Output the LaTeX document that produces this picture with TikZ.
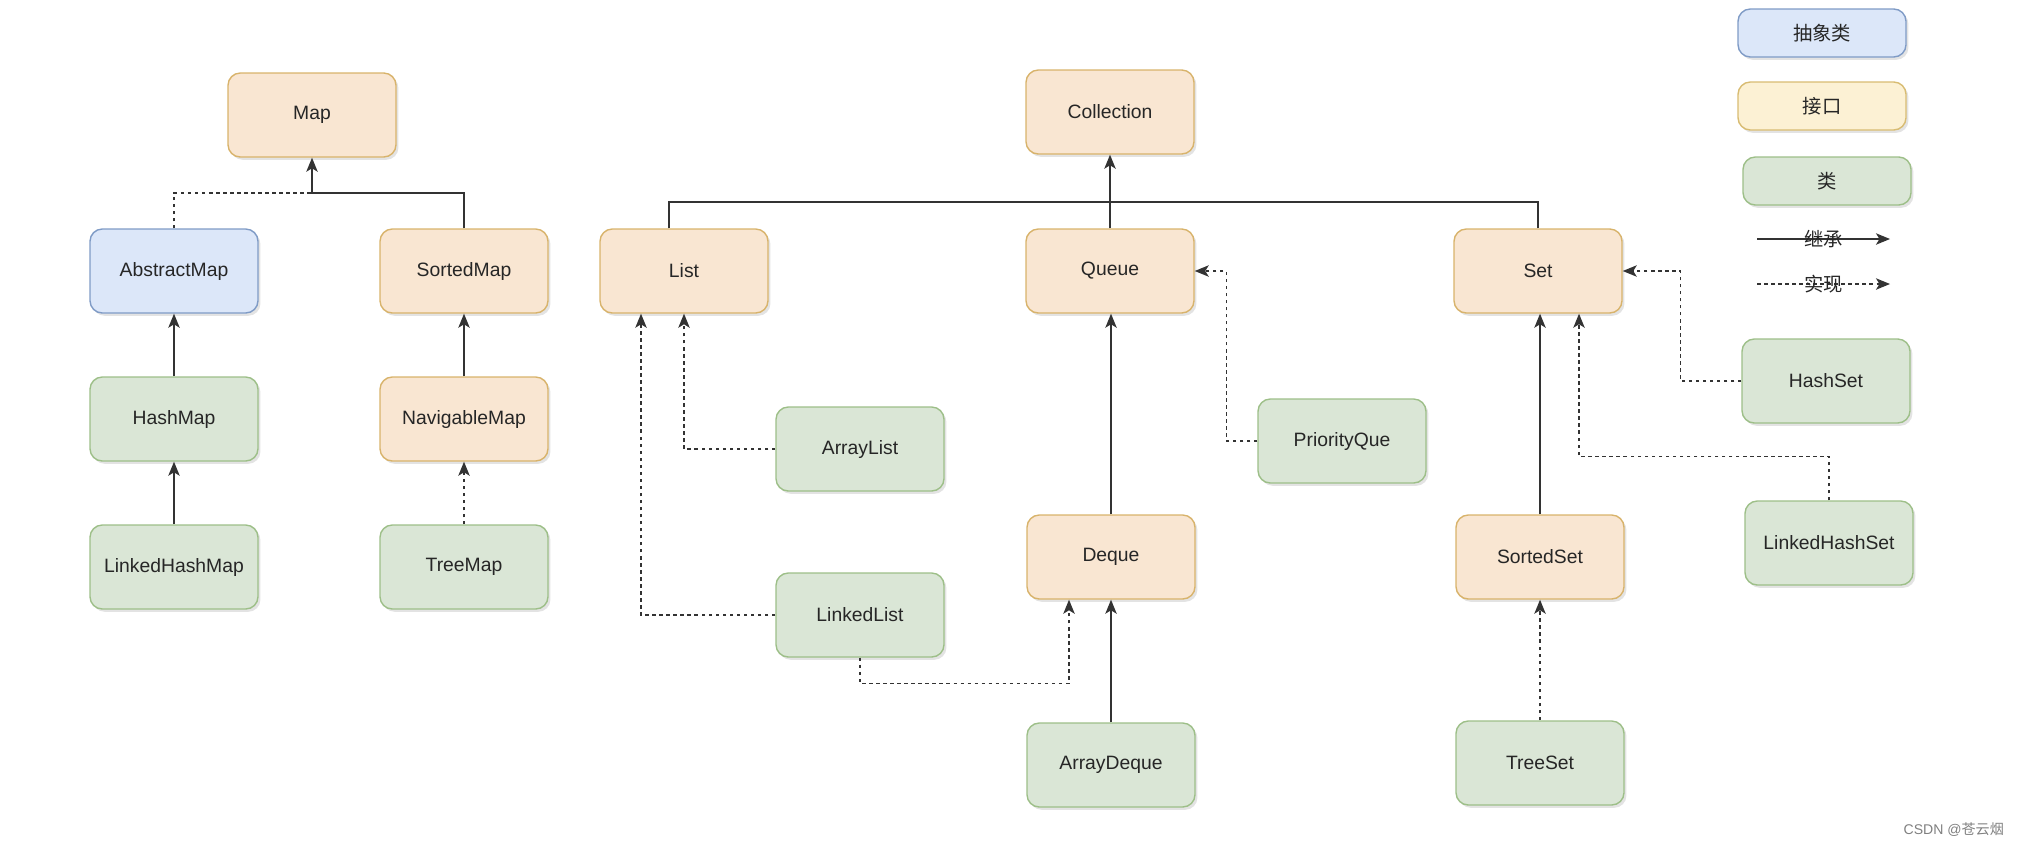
\documentclass[tikz,border=0pt]{standalone}
\usepackage{fontspec}
\setmainfont{Liberation Sans}
\newfontfamily\cjk{Noto Sans CJK SC}
\usetikzlibrary{arrows.meta, positioning, shadows}

\definecolor{ifcfill}{HTML}{F9E6D2}
\definecolor{ifcline}{HTML}{D8B36B}
\definecolor{absfill}{HTML}{DCE7F9}
\definecolor{absline}{HTML}{7F9BC6}
\definecolor{clsfill}{HTML}{DAE6D6}
\definecolor{clsline}{HTML}{9DBF88}
\definecolor{keyfill}{HTML}{FCF1D4}
\definecolor{keyline}{HTML}{D8BC72}

\begin{document}
\begin{tikzpicture} [node distance = 2.96cm, on grid,
every node/.style = {font=\fontsize{11}{13}\selectfont, text=black!85},
box/.style = {draw, rounded corners=7pt, line width=0.8pt, minimum width=3.36cm, minimum height=1.68cm,
  drop shadow={shadow xshift=1.4pt, shadow yshift=-1.6pt, opacity=0.22}},
iface/.style = {box, fill=ifcfill, draw=ifcline},
absclass/.style = {box, fill=absfill, draw=absline},
cls/.style = {box, fill=clsfill, draw=clsline},
keybox/.style = {minimum height=0.96cm},
inherit/.style = {-{Stealth[length=8pt, width=6.5pt, inset=2pt]}, line width=0.8pt, draw=black!80},
realize/.style = {inherit, dash pattern=on 2pt off 2pt},
link/.style = {line width=0.8pt, draw=black!80},
dashlink/.style = {link, dash pattern=on 2pt off 2pt}]

\useasboundingbox (0,0) rectangle (40.48,-16.88);

% Map side
\node (map) [iface] at (6.24,-2.30) {Map};
\node (amap) [absclass] at (3.48,-5.42) {AbstractMap};
\node (smap) [iface, right = 5.8cm of amap] {SortedMap};
\node (hmap) [cls, below = of amap] {HashMap};
\node (lhmap) [cls, below = of hmap] {LinkedHashMap};
\node (nmap) [iface, below = of smap] {NavigableMap};
\node (tmap) [cls, below = of nmap] {TreeMap};
\coordinate (mapj) at (6.24,-3.86);

% Collection side
\node (coll) [iface] at (22.2,-2.24) {Collection};
\node (queue) [iface, below = 3.18cm of coll] {Queue};
\node (list) [iface, left = 8.52cm of queue] {List};
\node (set) [iface, right = 8.56cm of queue] {Set};
\node (alist) [cls] at (17.2,-8.98) {ArrayList};
\node (llist) [cls, below = 3.32cm of alist] {LinkedList};
\node (deque) [iface] at (22.22,-11.14) {Deque};
\node (adeque) [cls, below = 4.16cm of deque] {ArrayDeque};
\node (pque) [cls] at (26.84,-8.82) {PriorityQue};
\node (sset) [iface] at (30.8,-11.14) {SortedSet};
\node (tset) [cls, below = 4.12cm of sset] {TreeSet};
\node (hset) [cls] at (36.52,-7.62) {HashSet};
\node (lhset) [cls] at (36.58,-10.86) {LinkedHashSet};
\coordinate (collj) at (22.2,-4.04);

% legend
\node (kabs) [absclass, keybox] at (36.44,-0.66) {\cjk 抽象类};
\node (kifc) [box, fill=keyfill, draw=keyline, keybox] at (36.44,-2.12) {\cjk 接口};
\node (kcls) [cls, keybox] at (36.54,-3.62) {\cjk 类};
\coordinate (kin1) at (35.14,-4.78);
\coordinate (kin2) at (37.8,-4.78);
\coordinate (kre1) at (35.14,-5.68);
\coordinate (kre2) at (37.8,-5.68);
\draw [inherit] (kin1) -- node {\cjk 继承} (kin2);
\draw [realize] (kre1) -- node {\cjk 实现} (kre2);

\node (mark) [anchor=east, text=black!50, font=\fontsize{8}{10}\selectfont] at (40.2,-16.6) {CSDN @{\cjk 苍云烟}};

% edges
\draw [dashlink] (amap.north) |- (mapj);
\draw [inherit] (smap.north) |- (mapj) -- (map.south);
\draw [inherit] (hmap) -- (amap);
\draw [inherit] (lhmap) -- (hmap);
\draw [inherit] (nmap) -- (smap);
\draw [realize] (tmap) -- (nmap);

\draw [link] ([xshift=-0.3cm]list.north) |- (collj);
\draw [link] (set.north) |- (collj);
\draw [inherit] (queue.north) -- (coll.south);
\draw [realize] (alist.west) -| (list.south);
\draw [realize] (llist.west) -| ([xshift=-0.86cm]list.south);
\draw [realize] (llist.south) -- ++(0,-0.52) -| ([xshift=-0.84cm]deque.south);
\draw [inherit] (deque.north) -- (deque.north |- queue.south);
\draw [inherit] (adeque.north) -- (deque.south);
\draw [realize] (pque.west) -- ++(-0.62,0) |- (queue.east);
\draw [inherit] (sset.north) -- (sset.north |- set.south);
\draw [realize] (tset.north) -- (sset.south);
\draw [realize] (hset.west) -- ++(-1.22,0) |- (set.east);
\draw [realize] (lhset.north) -- ++(0,0.88) -| ([xshift=0.82cm]set.south);
\end{tikzpicture}
\end{document}
